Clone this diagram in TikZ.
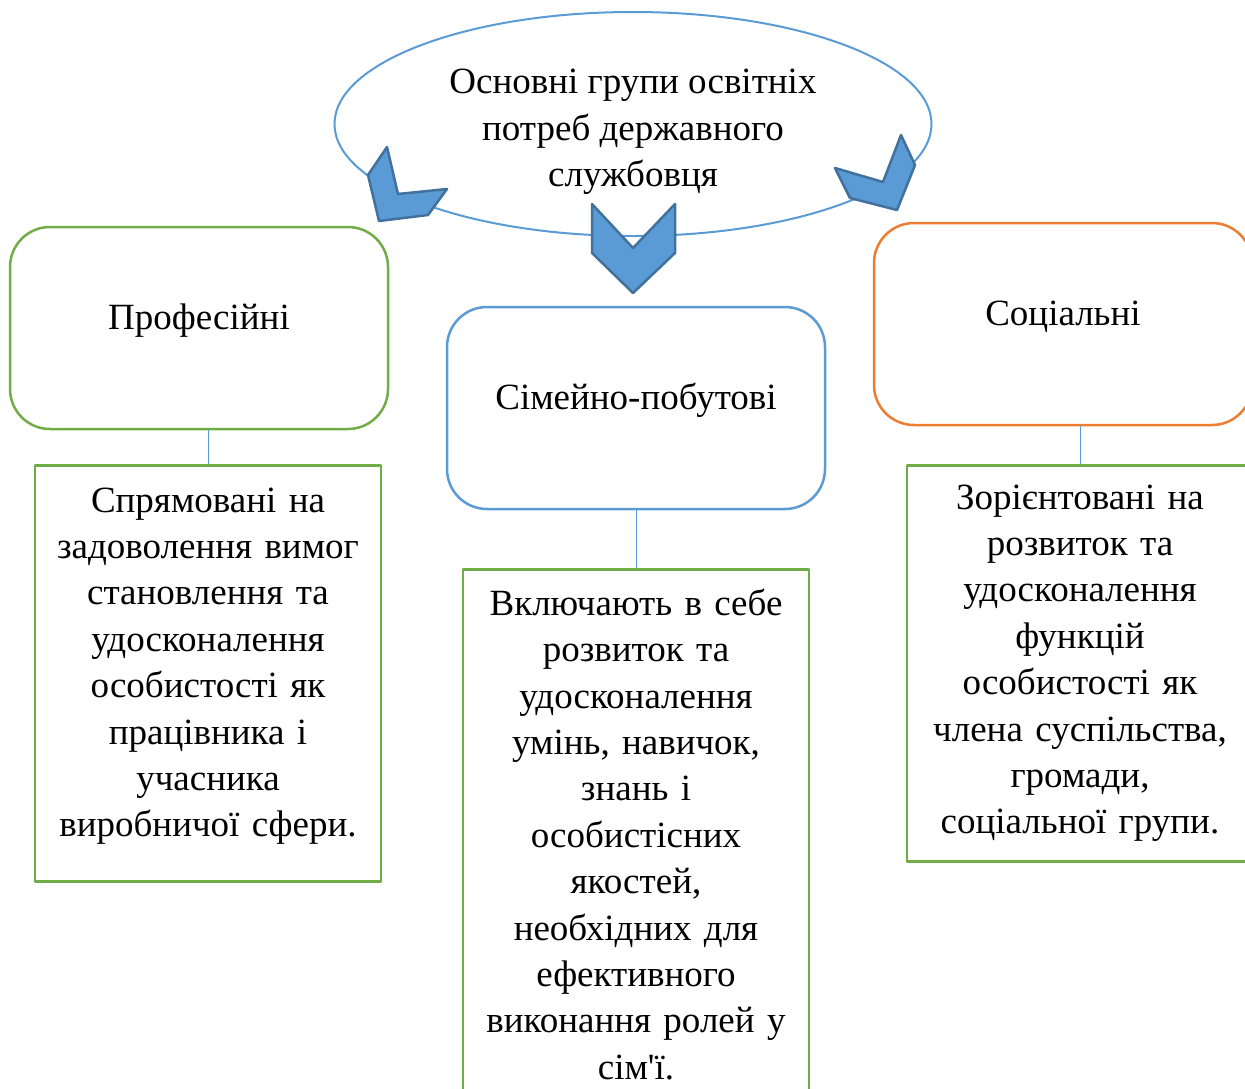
\documentclass[tikz,border=0pt]{standalone}
\usepackage{fontspec}
\setmainfont{Liberation Serif}[Ligatures=TeXOff]
\usetikzlibrary{shapes.geometric,positioning}
\definecolor{blu}{HTML}{5B9BD5}
\definecolor{bluedge}{HTML}{41719C}
\definecolor{grn}{HTML}{70AD47}
\definecolor{orng}{HTML}{ED7D31}
\begin{document}
\begin{tikzpicture}[x=1pt, y=-1pt, line join = round, font=\fontsize{37}{46.4}\selectfont]
		\tikzset{group/.style={draw, rounded corners=40pt, line width=2.5pt, minimum width=378pt, minimum height=202pt, text height=32pt, text depth=30pt},
			desc/.style={draw=grn, line width=2.5pt, align=center, text width=336pt, inner xsep=5pt, anchor=north},
			chevron/.style={fill=blu, draw=bluedge, line width=2.5pt}}
		\useasboundingbox (0,0) rectangle (1245,1088);
		\path (633,124) coordinate (M)
		(199,328) coordinate (P)
		(636,408) coordinate (S)
		(1063,324) coordinate (C)
		(208,464) coordinate (Pd)
		(636,568) coordinate (Sd)
		(1080,464) coordinate (Cd)
		;
		% main ellipse
		\node[ellipse, draw=blu, line width=2pt, minimum width=597pt, minimum height=224pt, align=center, inner sep=0pt] (main) at (M)
			{\rule{0pt}{40pt}Основні групи освітніх\\ потреб державного\\ службовця};
		% three groups
		\node[group, draw=grn] (prof) at (P) {Професійні};
		\node[group, draw=blu] (sim) at (S) {Сімейно-побутові};
		\node[group, draw=orng] (soc) at (C) {Соціальні};
		% descriptions
		\node[desc, minimum height=416pt] (profd) at (Pd) {Спрямовані на\\ задоволення вимог\\ становлення та\\ удосконалення\\ особистості як\\ працівника і\\ учасника\\ виробничої сфери.\rule[-22pt]{0pt}{22pt}};
		\node[desc, minimum height=530pt] (simd) at (Sd) {Включають в себе\\ розвиток та\\ удосконалення\\ умінь, навичок,\\ знань і\\ особистісних\\ якостей,\\ необхідних для\\ ефективного\\ виконання ролей у\\ сім'ї.};
		\node[desc, minimum height=396pt] (socd) at (Cd) {Зорієнтовані на\\ розвиток та\\ удосконалення\\ функцій\\ особистості як\\ члена суспільства,\\ громади,\\ соціальної групи.};
		\foreach \a/\b in {prof/profd,sim/simd,soc/socd}
		\draw[blu, line width=1pt] (\b.north) -- (\b.north |- \a.south);
		% chevrons
		\draw[chevron] (387,147)--(398,194)--(447,189)--(428,215)--(379,221)--(368,175)--cycle;
		\draw[chevron] (592,204)--(633,248)--(675,204)--(675,253)--(633,293)--(592,253)--cycle;
		\draw[chevron] (901,135)--(915,165)--(897,210)--(850,198)--(835,168)--(883,182)--cycle;
\end{tikzpicture}
\end{document}
